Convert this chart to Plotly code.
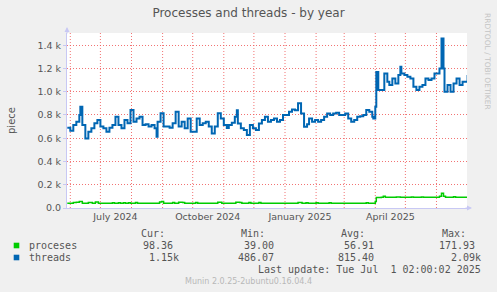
import pandas as pd
import plotly.graph_objects as go

# ---------------- data ----------------
start_date = "2024-05-29"
# day offsets from start_date for the threads series
threads_days = [0, 3, 6, 9, 12, 13, 15, 18, 21, 24, 27, 30, 33, 36, 39, 42, 45, 48, 51, 54, 57, 60, 63, 66,
                69, 72, 75, 78, 81, 84, 87, 89, 90, 93, 96, 99, 102, 105, 108, 111, 114, 117, 120, 123, 126,
                129, 132, 135, 138, 141, 144, 147, 150, 153, 156, 159, 161, 164, 167, 169, 170, 173, 176, 179,
                182, 185, 188, 191, 194, 197, 200, 203, 206, 209, 212, 215, 218, 221, 224, 227, 230, 233, 236,
                239, 241, 244, 247, 250, 253, 256, 259, 262, 265, 268, 271, 274, 277, 280, 283, 286, 289, 292,
                295, 298, 301, 304, 305, 307, 308, 310, 313, 316, 319, 321, 324, 327, 330, 332, 333, 336, 339,
                342, 345, 348, 351, 354, 357, 360, 363, 366, 369, 371, 373, 375, 376, 379, 382, 385, 388, 391,
                394, 397, 399]
threads_values = [690, 665, 713, 742, 800, 870, 713, 598, 656, 685, 728, 756, 700, 685, 656, 690, 713, 785,
                  713, 685, 756, 728, 842, 742, 770, 785, 713, 720, 700, 713, 685, 612, 742, 814, 700, 700,
                  690, 728, 828, 700, 742, 685, 770, 656, 656, 770, 713, 728, 742, 700, 641, 700, 814, 770,
                  713, 688, 713, 733, 785, 840, 727, 685, 670, 627, 713, 685, 670, 727, 756, 785, 742, 756,
                  770, 742, 756, 799, 799, 827, 847, 841, 900, 813, 699, 720, 770, 742, 756, 742, 756, 785,
                  813, 799, 813, 819, 799, 799, 813, 770, 742, 756, 785, 790, 799, 842, 827, 785, 770, 870,
                  1170, 1014, 1014, 1157, 1085, 1057, 1114, 1071, 1143, 1214, 1157, 1143, 1128, 1114, 1043,
                  1014, 1043, 1057, 1114, 1100, 1114, 1157, 1157, 1200, 1458, 1200, 999, 1057, 999, 1071,
                  1114, 1057, 1086, 1086, 1143]

proc_days = [0, 6, 9, 12, 15, 21, 25, 28, 31, 45, 47, 51, 53, 56, 58, 61, 63, 68, 70, 92, 94, 96, 105,
             107, 111, 115, 117, 128, 130, 150, 154, 168, 172, 174, 181, 183, 191, 193, 230, 234, 238, 240,
             248, 250, 261, 263, 298, 300, 307, 308, 313, 315, 317, 328, 332, 343, 345, 353, 355, 371, 373,
             375, 377, 385, 387, 399]
proc_values = [40, 48, 50, 55, 40, 48, 40, 52, 40, 46, 40, 46, 40, 46, 40, 46, 40, 47, 40, 52, 55, 40, 47,
               40, 50, 47, 40, 47, 40, 50, 40, 50, 47, 40, 47, 40, 47, 40, 48, 40, 46, 40, 46, 40, 46, 40,
               46, 40, 55, 90, 92, 100, 92, 95, 92, 95, 92, 95, 92, 100, 126, 100, 92, 96, 92, 92]

y_tick_vals = [0, 200, 400, 600, 800, 1000, 1200, 1400]
y_tick_text = ["0.0", "0.2\u00a0k", "0.4\u00a0k", "0.6\u00a0k", "0.8\u00a0k", "1.0\u00a0k", "1.2\u00a0k", "1.4\u00a0k"]
x_tick_vals = ["2024-07-16", "2024-10-16", "2025-01-16", "2025-04-16"]
x_tick_text = ["July 2024", "October 2024", "January 2025", "April 2025"]

legend_names = ["proceses", "threads"]
legend_colors = ["#00cc00", "#0066b3"]
stat_headers = ["Cur:", "Min:", "Avg:", "Max:"]
stats = {
    "proceses": ["98.36", "39.00", "56.91", "171.93"],
    "threads": ["1.15k", "486.07", "815.40", "2.09k"],
}
title_text = "Processes and threads - by year"
y_title = "piece"
last_update = "Last update: Tue Jul\u00a0\u00a01 02:00:02 2025"
footer = "Munin 2.0.25-2ubuntu0.16.04.4"
watermark = "RRDTOOL / TOBI OETIKER"

# ---------------- figure ----------------
W, H = 497, 292
L, R, T, B = 67, 30, 33, 84
PW, PH = W - L - R, H - T - B


def px(x):
    return (x - L) / PW


def py(y):
    return (H - B - y) / PH


t0 = pd.Timestamp(start_date)
threads_x = [t0 + pd.Timedelta(days=d) for d in threads_days]
proc_x = [t0 + pd.Timedelta(days=d) for d in proc_days]

fig = go.Figure()
fig.add_trace(go.Scatter(x=proc_x, y=proc_values, mode="lines",
                         line=dict(color=legend_colors[0], width=1.5, shape="hv"),
                         name="proceses", hoverinfo="skip"))
fig.add_trace(go.Scatter(x=threads_x, y=threads_values, mode="lines",
                         line=dict(color=legend_colors[1], width=2, shape="hv"),
                         name="threads", hoverinfo="skip"))

grid_col = "rgba(240,90,90,0.85)"
grid_dash = "1px,2px"
axis_col = "#c8c8f4"
font_col = "#555555"

# monthly vertical grid lines
for m in pd.date_range("2024-06-01", "2025-06-01", freq="MS"):
    fig.add_shape(type="line", xref="x", yref="paper", x0=m, x1=m, y0=0, y1=1,
                  line=dict(color=grid_col, width=1, dash=grid_dash), layer="below")

x_start = pd.Timestamp("2024-06-01") - pd.Timedelta(hours=79)
x_end = pd.Timestamp("2025-07-01") + pd.Timedelta(hours=10)

fig.update_layout(
    width=W, height=H,
    margin=dict(l=L, r=R, t=T, b=B),
    paper_bgcolor="#f0f0f0", plot_bgcolor="#ffffff",
    showlegend=False,
    font=dict(family="DejaVu Sans", color=font_col, size=9),
    title=dict(text=title_text, x=0.5, xanchor="center", y=1 - 13 / H, yanchor="middle",
               font=dict(family="DejaVu Sans", size=12, color=font_col)),
    xaxis=dict(range=[x_start, x_end], tickmode="array", tickvals=x_tick_vals, ticktext=x_tick_text,
               showgrid=False, zeroline=False, showline=True, linecolor=axis_col, linewidth=1,
               ticks="", tickfont=dict(size=9.5, color=font_col)),
    yaxis=dict(range=[0, 1505], tickmode="array", tickvals=y_tick_vals, ticktext=y_tick_text,
               showgrid=True, gridcolor=grid_col, griddash=grid_dash, gridwidth=1, zeroline=False,
               showline=True, linecolor=axis_col, linewidth=1, ticks="outside", ticklen=3,
               tickcolor=axis_col, tickfont=dict(size=9.5, color=font_col)),
)

ann = []
# axis arrows
ann.append(dict(x=px(472), y=0, xref="paper", yref="paper", ax=-8, ay=0, text="", showarrow=True,
                arrowhead=2, arrowsize=1, arrowwidth=1, arrowcolor=axis_col))
ann.append(dict(x=0, y=py(27), xref="paper", yref="paper", ax=0, ay=8, text="", showarrow=True,
                arrowhead=2, arrowsize=1, arrowwidth=1, arrowcolor=axis_col))
# y title
ann.append(dict(x=px(11), y=py(120), xref="paper", yref="paper", text=y_title, textangle=-90,
                showarrow=False, font=dict(size=10, color=font_col), xanchor="center", yanchor="middle"))
# rrdtool watermark
ann.append(dict(x=px(488), y=py(61), xref="paper", yref="paper", text=watermark, textangle=90,
                showarrow=False, font=dict(size=7.5, color="#c4c4c4"), xanchor="center", yanchor="middle"))

mono = "DejaVu Sans Mono"
header_right = [166.7, 267.3, 367.3, 468.3]
for h, xr in zip(stat_headers, header_right):
    ann.append(dict(x=px(xr), y=py(233.3), xref="paper", yref="paper", text=h, showarrow=False,
                    xanchor="right", yanchor="middle", font=dict(family=mono, size=10, color=font_col)))

row_y = [245.7, 257.7]
val_right = {"proceses": [175, 276, 376, 477], "threads": [181, 276, 376, 483]}
for name, col, ry in zip(legend_names, legend_colors, row_y):
    fig.add_shape(type="rect", xref="paper", yref="paper", x0=px(13.7), x1=px(19.3),
                  y0=py(ry + 2.6), y1=py(ry - 3), fillcolor=col, line=dict(width=0))
    ann.append(dict(x=px(26.5), y=py(ry), xref="paper", yref="paper", text=name, showarrow=False,
                    xanchor="left", yanchor="middle", font=dict(family=mono, size=10, color=font_col)))
    for v, xr in zip(stats[name], val_right[name]):
        ann.append(dict(x=px(xr), y=py(ry), xref="paper", yref="paper", text=v, showarrow=False,
                        xanchor="right", yanchor="middle", font=dict(family=mono, size=10, color=font_col)))

ann.append(dict(x=px(483), y=py(269.7), xref="paper", yref="paper", text=last_update, showarrow=False,
                xanchor="right", yanchor="middle", font=dict(family=mono, size=10, color=font_col)))
ann.append(dict(x=px(248), y=py(281.5), xref="paper", yref="paper", text=footer, showarrow=False,
                xanchor="center", yanchor="middle", font=dict(family="DejaVu Sans", size=8, color="#b8b8b8")))

fig.update_layout(annotations=ann)
fig.write_html("out.html", config={"displayModeBar": False},
               post_script="document.body.style.margin='0';document.body.style.padding='0';")
